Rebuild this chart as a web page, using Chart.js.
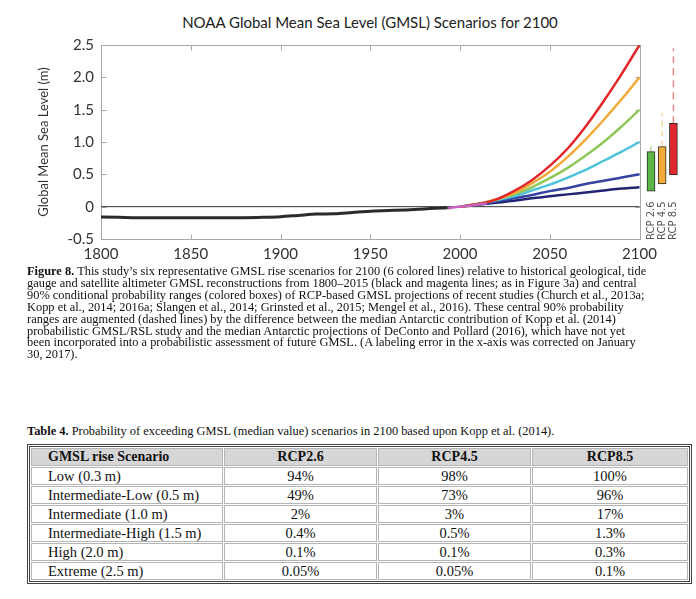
<!DOCTYPE html>
<html>
<head>
<meta charset="utf-8">
<script src="https://cdn.jsdelivr.net/npm/chart.js@4.4.0/dist/chart.umd.min.js"></script>
<style>
  body { margin: 0; background: #fff; width: 696px; height: 599px; position: relative; overflow: hidden; }
  #title { position: absolute; top: 13px; left: 100px; width: 540px; text-align: center; font: 15px Lato, sans-serif; color: #222; }
  #wrap { position: absolute; left: 0; top: 0; width: 696px; height: 265px; }
  .cap { position: absolute; left: 27px; font-family: "Liberation Serif", serif; font-size: 12.4px; line-height: 11.9px; color: #111; white-space: nowrap; }
  #t4 { position: absolute; left: 27px; top: 444px; width: 665px; border: 3px double #444; border-spacing: 1px;
        font-family: "Liberation Serif", serif; font-size: 14.5px; color: #111; }
  #t4 td, #t4 th { border: 1px solid #b5b5b5; height: 16px; line-height: 16px; padding: 0; text-align: center; font-weight: normal; }
  #t4 th { background: #d6d6d6; font-weight: bold; font-size: 14px; }
  #t4 .l { text-align: left; padding-left: 16px; }
</style>
</head>
<body>
<div id="title">NOAA Global Mean Sea Level (GMSL) Scenarios for 2100</div>
<div id="wrap"><canvas id="c"></canvas></div>

<div class="cap" style="top:266px">
<b>Figure 8.</b> This study’s six representative GMSL rise scenarios for 2100 (6 colored lines) relative to historical geological, tide<br>
gauge and satellite altimeter GMSL reconstructions from 1800–2015 (black and magenta lines; as in Figure 3a) and central<br>
90% conditional probability ranges (colored boxes) of RCP-based GMSL projections of recent studies (Church et al., 2013a;<br>
Kopp et al., 2014; 2016a; Slangen et al., 2014; Grinsted et al., 2015; Mengel et al., 2016). These central 90% probability<br>
ranges are augmented (dashed lines) by the difference between the median Antarctic contribution of Kopp et al. (2014)<br>
probabilistic GMSL/RSL study and the median Antarctic projections of DeConto and Pollard (2016), which have not yet<br>
been incorporated into a probabilistic assessment of future GMSL. (A labeling error in the x-axis was corrected on January<br>
30, 2017).
</div>

<div class="cap" style="top:426px"><b>Table 4.</b> Probability of exceeding GMSL (median value) scenarios in 2100 based upon Kopp et al. (2014).</div>

<table id="t4"></table>

<script>
// axis ticks
const xTicks = [1800, 1850, 1900, 1950, 2000, 2050, 2100];
const yTicks = [-0.5, 0, 0.5, 1.0, 1.5, 2.0, 2.5];

// historical reconstruction (black) and satellite era (magenta)
const histYears = [1800, 1810, 1820, 1830, 1840, 1850, 1860, 1870, 1880, 1890, 1900, 1910, 1920, 1930, 1940, 1950, 1960, 1970, 1980, 1990, 1995];
const histLevels = [-0.16, -0.165, -0.17, -0.17, -0.17, -0.17, -0.17, -0.17, -0.17, -0.165, -0.155, -0.135, -0.115, -0.11, -0.09, -0.07, -0.06, -0.05, -0.035, -0.02, -0.015];
const satYears = [1993, 1997, 2001, 2005, 2009, 2013, 2015];
const satLevels = [-0.02, -0.01, 0.005, 0.015, 0.03, 0.045, 0.05];

// scenario curves
const scenYears = [2000, 2010, 2020, 2030, 2040, 2050, 2060, 2070, 2080, 2090, 2100];
const lowScen      = [0, 0.03, 0.06, 0.09, 0.13, 0.16, 0.19, 0.22, 0.25, 0.28, 0.30];
const intLowScen   = [0, 0.04, 0.08, 0.13, 0.18, 0.24, 0.29, 0.35, 0.40, 0.45, 0.50];
const intScen      = [0, 0.04, 0.10, 0.16, 0.25, 0.34, 0.45, 0.57, 0.71, 0.85, 1.00];
const intHighScen  = [0, 0.04, 0.11, 0.19, 0.30, 0.44, 0.60, 0.79, 1.00, 1.24, 1.50];
const highScen     = [0, 0.04, 0.11, 0.21, 0.36, 0.54, 0.77, 1.04, 1.34, 1.66, 2.00];
const extremeScen  = [0, 0.04, 0.11, 0.24, 0.41, 0.63, 0.90, 1.24, 1.63, 2.05, 2.50];

// RCP boxes (90% ranges) and dashed augmentations
const rcpLabels = ['RCP 2.6', 'RCP 4.5', 'RCP 8.5'];
const rcpPos = [2106.4, 2112.6, 2118.9];
const rcpLow = [0.24, 0.35, 0.49];
const rcpHigh = [0.85, 0.93, 1.29];
const rcpTop = [0.94, 1.45, 2.45];

// table 4
const scenNames = ['Low (0.3 m)', 'Intermediate-Low (0.5 m)', 'Intermediate (1.0 m)', 'Intermediate-High (1.5 m)', 'High (2.0 m)', 'Extreme (2.5 m)'];
const prob26 = ['94%', '49%', '2%', '0.4%', '0.1%', '0.05%'];
const prob45 = ['98%', '73%', '3%', '0.5%', '0.1%', '0.05%'];
const prob85 = ['100%', '96%', '17%', '1.3%', '0.3%', '0.1%'];

function pts(xs, ys) { return xs.map((x, i) => ({ x: x, y: ys[i] })); }

function buildTable() {
  const t = document.getElementById('t4');
  let h = '<tr><th class="l" style="width:174px">GMSL rise Scenario</th><th style="width:151px">RCP2.6</th><th style="width:151px">RCP4.5</th><th>RCP8.5</th></tr>';
  scenNames.forEach((n, i) => {
    h += '<tr><td class="l">' + n + '</td><td>' + prob26[i] + '</td><td>' + prob45[i] + '</td><td>' + prob85[i] + '</td></tr>';
  });
  t.innerHTML = h;
}
buildTable();

const line = (data, color, w) => ({ type: 'line', data: data, borderColor: color, borderWidth: w, pointRadius: 0, fill: false, cubicInterpolationMode: 'monotone' });

const frame = {
  id: 'frame',
  beforeDatasetsDraw(chart) {
    const { ctx, scales: { x, y } } = chart;
    const l = Math.round(x.getPixelForValue(1800)) + 0.5, r = Math.round(x.getPixelForValue(2100)) + 0.5;
    const t = Math.round(y.getPixelForValue(2.5)) + 0.5, b = Math.round(y.getPixelForValue(-0.5)) + 0.5;
    ctx.save();
    ctx.strokeStyle = '#a8a8a8';
    ctx.lineWidth = 1;
    ctx.strokeRect(l, t, r - l, b - t);
    ctx.beginPath();
    xTicks.forEach(v => {
      const px = Math.round(x.getPixelForValue(v)) + 0.5;
      ctx.moveTo(px, b); ctx.lineTo(px, b - 5);
      ctx.moveTo(px, t); ctx.lineTo(px, t + 5);
    });
    yTicks.forEach(v => {
      const py = Math.round(y.getPixelForValue(v)) + 0.5;
      ctx.moveTo(l, py); ctx.lineTo(l + 5, py);
      ctx.moveTo(r, py); ctx.lineTo(r - 5, py);
    });
    ctx.stroke();
    ctx.restore();
  },
  afterDatasetsDraw(chart) {
    const { ctx, scales: { x, y } } = chart;
    ctx.save();
    ctx.fillStyle = '#555';
    ctx.font = '10px "DejaVu Sans", sans-serif';
    ctx.textAlign = 'left';
    ctx.textBaseline = 'middle';
    rcpLabels.forEach((s, i) => {
      ctx.save();
      ctx.translate(x.getPixelForValue(rcpPos[i]), y.getPixelForValue(-0.5) + 1);
      ctx.rotate(-Math.PI / 2);
      ctx.fillText(s, 0, 0);
      ctx.restore();
    });
    ctx.restore();
  }
};

new Chart(document.getElementById('c'), {
  type: 'line',
  data: {
    datasets: [
      line(pts(satYears, satLevels), '#c763bf', 2.5),
      line(pts(scenYears, extremeScen), '#e2262b', 2.5),
      line(pts(scenYears, highScen), '#f3a935', 2.5),
      line(pts(scenYears, intHighScen), '#8fc85a', 2.5),
      line(pts(scenYears, intScen), '#4ec3db', 2.5),
      line(pts(scenYears, intLowScen), '#3444a0', 2.5),
      line(pts(scenYears, lowScen), '#222472', 2.5),
      line(pts(histYears, histLevels), '#2b2b2b', 3),
      line([{ x: 1800, y: 0 }, { x: 2100, y: 0 }], '#333', 1),
      { type: 'bar', data: rcpPos.map((p, i) => ({ x: p, y: [rcpLow[i], rcpHigh[i]] })),
        backgroundColor: ['#5cb547', '#f2aa36', '#e0272d'], borderColor: '#2a2a2a', borderWidth: 1,
        borderSkipped: false, barThickness: 8 },
      line([{ x: rcpPos[0], y: rcpHigh[0] }, { x: rcpPos[0], y: rcpTop[0] }], '#8cc66a', 1),
      Object.assign(line([{ x: rcpPos[1], y: rcpHigh[1] }, { x: rcpPos[1], y: rcpTop[1] }], '#f7cf8a', 1.2), { borderDash: [6, 4] }),
      Object.assign(line([{ x: rcpPos[2], y: rcpHigh[2] }, { x: rcpPos[2], y: rcpTop[2] }], '#ea8a8e', 1.5), { borderDash: [7, 5] })
    ]
  },
  options: {
    responsive: true,
    maintainAspectRatio: false,
    animation: false,
    layout: { padding: { top: 45, right: 17, left: 0, bottom: 0 } },
    plugins: { legend: { display: false }, tooltip: { enabled: false } },
    scales: {
      x: {
        type: 'linear', min: 1800, max: 2122, offset: false,
        afterBuildTicks: s => { s.ticks = xTicks.map(v => ({ value: v })); },
        afterFit: s => { s.height = 26; },
        grid: { display: false, drawTicks: false }, border: { display: false },
        ticks: { padding: 6, maxRotation: 0, autoSkip: false, color: '#333', font: { family: 'Lato', size: 15 },
                 callback: v => String(v) }
      },
      y: {
        min: -0.5, max: 2.5,
        afterBuildTicks: s => { s.ticks = yTicks.map(v => ({ value: v })); },
        afterFit: s => { s.width = 101; },
        grid: { display: false, drawTicks: false }, border: { display: false },
        ticks: { padding: 7, color: '#333', font: { family: 'Lato', size: 15 },
                 callback: v => v === 0 ? '0' : v.toFixed(1) },
        title: { display: true, text: 'Global Mean Sea Level (m)', color: '#333',
                 font: { family: 'Lato', size: 13 }, padding: { top: 36, bottom: 0 } }
      }
    }
  },
  plugins: [frame]
});
</script>
</body>
</html>
